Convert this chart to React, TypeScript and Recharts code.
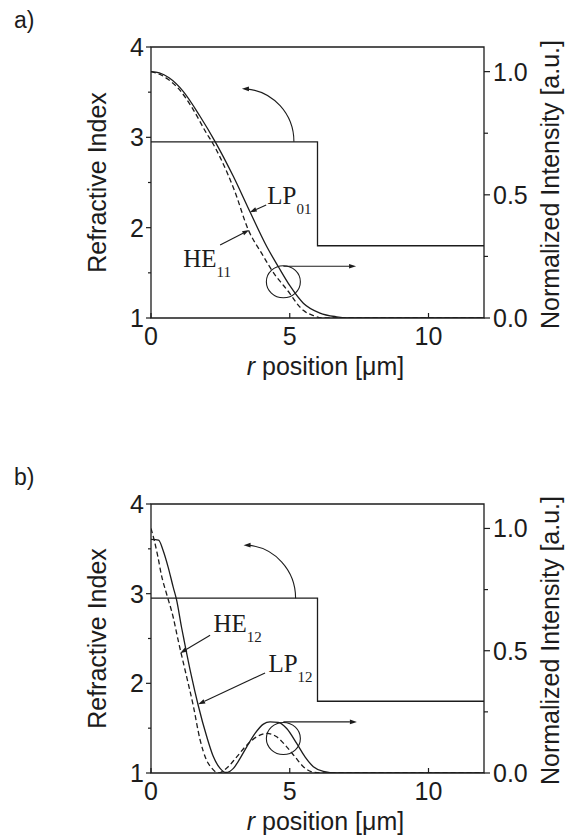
import { Label, Line, LineChart, ReferenceArea, ReferenceDot, ReferenceLine, XAxis, YAxis } from "recharts";

const INK = "#1c1c1c";
const SANS = '"Liberation Sans", Arial, sans-serif';
const SERIF = '"Liberation Serif", "Times New Roman", serif';

// r position [µm] and normalized intensity
const rLP01 = [0, 0.3, 0.65, 1.16, 1.76, 2.31, 2.97, 3.57, 4.17, 4.59, 5.01, 5.49, 6.09, 6.69, 7.2, 9, 12];
const iLP01 = [1.0, 0.995, 0.975, 0.92, 0.82, 0.716, 0.574, 0.43, 0.29, 0.208, 0.13, 0.06, 0.02, 0.005, 0, 0, 0];

const rHE11 = [0, 0.3, 0.6, 1.0, 1.5, 2.0, 2.19, 2.5, 3.0, 3.51, 4.0, 4.5, 4.71, 5.0, 5.25, 5.5, 5.85, 6.2, 9, 12];
const iHE11 = [1.0, 0.99, 0.97, 0.93, 0.85, 0.75, 0.716, 0.65, 0.52, 0.357, 0.26, 0.17, 0.141, 0.1, 0.06, 0.03, 0.01, 0, 0, 0];

const rLP12 = [0, 0.27, 0.44, 0.62, 0.8, 0.92, 1.1, 1.18, 1.45, 1.7, 2.01, 2.25, 2.49, 2.7, 2.97, 3.21, 3.45, 3.75, 4.05, 4.29, 4.59, 4.89, 5.25, 5.55, 5.85, 6.21, 6.69, 9, 12];
const iLP12 = [0.955, 0.952, 0.909, 0.841, 0.76, 0.709, 0.596, 0.55, 0.4, 0.277, 0.148, 0.066, 0.019, 0.002, 0.019, 0.06, 0.107, 0.162, 0.2, 0.209, 0.207, 0.182, 0.121, 0.066, 0.026, 0.007, 0, 0, 0];

const rHE12 = [0, 0.12, 0.24, 0.38, 0.56, 0.8, 0.98, 1.25, 1.52, 1.77, 2.0, 2.19, 2.43, 2.73, 3.09, 3.45, 3.81, 4.17, 4.53, 4.89, 5.19, 5.49, 5.85, 6.2, 9, 12];
const iHE12 = [1.0, 0.95, 0.889, 0.807, 0.733, 0.637, 0.542, 0.41, 0.277, 0.135, 0.053, 0.02, 0, 0.02, 0.066, 0.114, 0.148, 0.162, 0.148, 0.107, 0.066, 0.026, 0.003, 0, 0, 0];

// refractive index profile (step)
const rStep = [0, 6, 6, 12];
const nStep = [2.95, 2.95, 1.8, 1.8];

const xTicks = [0, 5, 10];
const nTicks = [1, 1.5, 2, 2.5, 3, 3.5, 4];
const iTicks = [0, 0.25, 0.5, 0.75, 1.0];

const zip = (xs: number[], ys: number[]) => xs.map((x, i) => ({ x, y: ys[i] }));

const W = 571;
const CH = 400;
const PL = 151;
const PR = 484;
const PT = 47;

type Note = { main: string; sub: string; at: [number, number]; from: [number, number]; to: [number, number] };

type PanelCfg = {
  tag: string;
  top: number;
  plotBottom: number;
  solid: { x: number; y: number }[];
  dashed: { x: number; y: number }[];
  notes: Note[];
  circle: [number, number];
  arrowY: number;
  arrowTo: number;
  bendFoot: number;
};

function LeftTick(props: any) {
  const { x, y, payload } = props;
  const v = payload.value;
  const major = Number.isInteger(v);
  return (
    <g>
      <line x1={x - (major ? 5 : 3)} x2={x} y1={y} y2={y} stroke={INK} strokeWidth={1.2} />
      {major ? (
        <text x={x - 7} y={y} dy="0.36em" textAnchor="end" fontFamily={SANS} fontSize={25} fill={INK}>
          {v}
        </text>
      ) : null}
    </g>
  );
}

function RightTick(props: any) {
  const { x, y, payload } = props;
  const v = payload.value;
  const major = Math.abs(v * 2 - Math.round(v * 2)) < 1e-6;
  return (
    <g>
      <line x1={x} x2={x + (major ? 6 : 4)} y1={y} y2={y} stroke={INK} strokeWidth={1.2} />
      {major ? (
        <text x={x + 9} y={y} dy="0.36em" textAnchor="start" fontFamily={SANS} fontSize={25} fill={INK}>
          {v.toFixed(1)}
        </text>
      ) : null}
    </g>
  );
}

function BottomTick(props: any) {
  const { x, y, payload } = props;
  return (
    <g>
      <line x1={x} x2={x} y1={y} y2={y - 5} stroke={INK} strokeWidth={1.2} />
      <text x={x} y={y + 27} textAnchor="middle" fontFamily={SANS} fontSize={25} fill={INK}>
        {payload.value}
      </text>
    </g>
  );
}

function arrowSeg(p: any) {
  const { x1, y1, x2, y2 } = p;
  const a = Math.atan2(y2 - y1, x2 - x1);
  const L = 7;
  const w = 2.3;
  const bx = x2 - L * Math.cos(a);
  const by = y2 - L * Math.sin(a);
  const pts = `${x2},${y2} ${bx - w * Math.sin(a)},${by + w * Math.cos(a)} ${bx + w * Math.sin(a)},${by - w * Math.cos(a)}`;
  return (
    <g>
      <line x1={x1} y1={y1} x2={bx} y2={by} stroke={INK} strokeWidth={1.1} />
      <polygon points={pts} fill={INK} />
    </g>
  );
}

function bentArrow(p: any) {
  const { cx, cy } = p;
  const tx = cx - 52;
  const ty = cy - 53;
  return (
    <g>
      <path d={`M${cx},${cy} A52,53 0 0 0 ${tx + 4},${ty}`} fill="none" stroke={INK} strokeWidth={1.1} />
      <polygon points={`${tx},${ty} ${tx + 7},${ty - 2.3} ${tx + 7},${ty + 2.3}`} fill={INK} />
    </g>
  );
}

function ring(p: any) {
  return <ellipse cx={p.cx} cy={p.cy} rx={17} ry={16} fill="none" stroke={INK} strokeWidth={1.1} />;
}

const noteText = (n: Note) => (p: any) => (
  <text x={p.cx} y={p.cy} fontFamily={SERIF} fontSize={25} fill={INK}>
    {n.main}
    <tspan fontSize={15} dy={10}>
      {n.sub}
    </tspan>
  </text>
);

function Panel({ cfg }: { cfg: PanelCfg }) {
  const below = CH - cfg.plotBottom;
  const plotMid = (PT + cfg.plotBottom) / 2;
  return (
    <div style={{ position: "absolute", left: 0, top: cfg.top, width: W, height: CH }}>
      <div
        style={{
          position: "absolute",
          left: 14,
          top: 9,
          fontFamily: SANS,
          fontSize: 23,
          lineHeight: "23px",
          color: INK,
        }}
      >
        {cfg.tag}
      </div>
      <LineChart width={W} height={CH} margin={{ top: PT, left: PL - 80, right: W - PR - 70, bottom: below - 60 }}>
        <XAxis
          type="number"
          dataKey="x"
          domain={[0, 12]}
          ticks={xTicks}
          interval={0}
          height={60}
          axisLine={false}
          tickLine={false}
          tickSize={0}
          tickMargin={0}
          tick={BottomTick}
          allowDataOverflow
          label={
            <Label
              content={() => (
                <text x={(PL + PR) / 2 + 8} y={cfg.plotBottom + 57} textAnchor="middle" fontFamily={SANS} fontSize={25} fill={INK}>
                  <tspan fontStyle="italic">r</tspan> position [μm]
                </text>
              )}
            />
          }
        />
        <YAxis
          yAxisId="left"
          orientation="left"
          width={80}
          domain={[1, 4]}
          ticks={nTicks}
          interval={0}
          axisLine={false}
          tickLine={false}
          tickSize={0}
          tickMargin={0}
          tick={LeftTick}
          allowDataOverflow
          label={
            <Label
              content={() => (
                <text
                  x={106}
                  y={plotMid}
                  transform={`rotate(-90 106 ${plotMid})`}
                  textAnchor="middle"
                  fontFamily={SANS}
                  fontSize={25}
                  fill={INK}
                >
                  Refractive Index
                </text>
              )}
            />
          }
        />
        <YAxis
          yAxisId="right"
          orientation="right"
          width={70}
          domain={[0, 1.1]}
          ticks={iTicks}
          interval={0}
          axisLine={false}
          tickLine={false}
          tickSize={0}
          tickMargin={0}
          tick={RightTick}
          allowDataOverflow
          label={
            <Label
              content={() => (
                <text
                  x={559}
                  y={plotMid + 2}
                  transform={`rotate(-90 559 ${plotMid + 2})`}
                  textAnchor="middle"
                  fontFamily={SANS}
                  fontSize={25}
                  fill={INK}
                >
                  Normalized Intensity [a.u.]
                </text>
              )}
            />
          }
        />
        <ReferenceArea yAxisId="left" x1={0} x2={12} y1={1} y2={4} fill="none" stroke={INK} strokeWidth={1.3} />
        <Line
          yAxisId="left"
          data={zip(rStep, nStep)}
          dataKey="y"
          type="linear"
          stroke={INK}
          strokeWidth={1.3}
          dot={false}
          isAnimationActive={false}
        />
        <Line
          yAxisId="right"
          data={cfg.solid}
          dataKey="y"
          type="monotone"
          stroke={INK}
          strokeWidth={1.3}
          dot={false}
          isAnimationActive={false}
        />
        <Line
          yAxisId="right"
          data={cfg.dashed}
          dataKey="y"
          type="monotone"
          stroke={INK}
          strokeWidth={1.3}
          strokeDasharray="5 3"
          dot={false}
          isAnimationActive={false}
        />
        <ReferenceDot yAxisId="right" x={cfg.circle[0]} y={cfg.circle[1]} shape={ring} />
        <ReferenceLine
          yAxisId="right"
          segment={[
            { x: cfg.circle[0], y: cfg.arrowY },
            { x: cfg.arrowTo, y: cfg.arrowY },
          ]}
          shape={arrowSeg}
        />
        <ReferenceDot yAxisId="left" x={cfg.bendFoot} y={nStep[0]} shape={bentArrow} />
        {cfg.notes.map((n) => (
          <ReferenceLine
            key={`l-${n.main}`}
            yAxisId="right"
            segment={[
              { x: n.from[0], y: n.from[1] },
              { x: n.to[0], y: n.to[1] },
            ]}
            shape={arrowSeg}
          />
        ))}
        {cfg.notes.map((n) => (
          <ReferenceDot key={`t-${n.main}`} yAxisId="right" x={n.at[0]} y={n.at[1]} shape={noteText(n)} />
        ))}
      </LineChart>
    </div>
  );
}

const panelA: PanelCfg = {
  tag: "a)",
  top: 0,
  plotBottom: 318,
  solid: zip(rLP01, iLP01),
  dashed: zip(rHE11, iHE11),
  notes: [
    { main: "LP", sub: "01", at: [4.19, 0.463], from: [4.15, 0.459], to: [3.56, 0.429] },
    { main: "HE", sub: "11", at: [1.16, 0.208], from: [2.49, 0.296], to: [3.54, 0.357] },
  ],
  circle: [4.77, 0.147],
  arrowY: 0.21,
  arrowTo: 7.39,
  bendFoot: 5.15,
};

const panelB: PanelCfg = {
  tag: "b)",
  top: 457,
  plotBottom: 316,
  solid: zip(rLP12, iLP12),
  dashed: zip(rHE12, iHE12),
  notes: [
    { main: "HE", sub: "12", at: [2.25, 0.576], from: [2.13, 0.563], to: [1.05, 0.49] },
    { main: "LP", sub: "12", at: [4.23, 0.413], from: [4.11, 0.409], to: [1.7, 0.281] },
  ],
  circle: [4.77, 0.141],
  arrowY: 0.209,
  arrowTo: 7.42,
  bendFoot: 5.21,
};

export default function App() {
  return (
    <div style={{ position: "absolute", left: 0, top: 0, width: W, height: 836, background: "#fff" }}>
      <Panel cfg={panelA} />
      <Panel cfg={panelB} />
    </div>
  );
}
